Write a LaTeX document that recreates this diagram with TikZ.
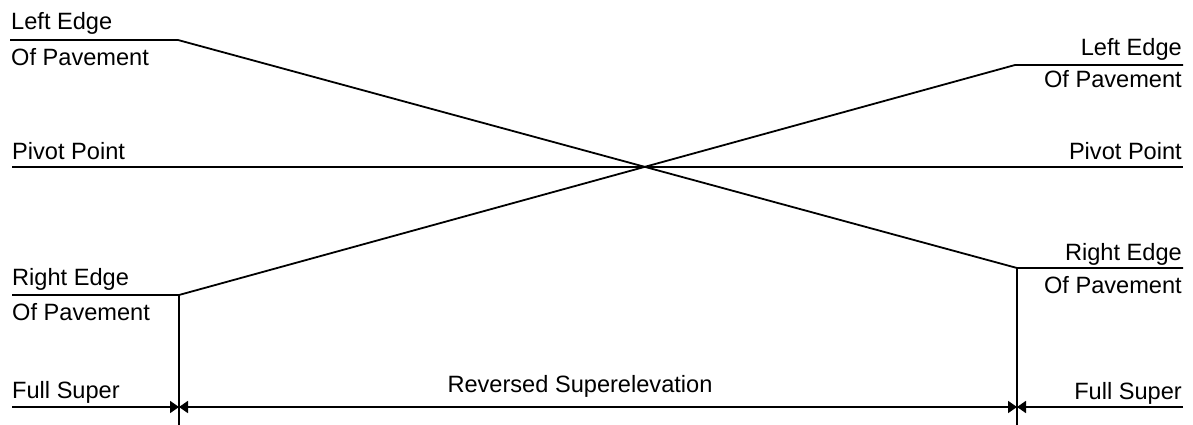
\documentclass[tikz,border=0pt]{standalone}
\usepackage{fontspec}
\setmainfont{Liberation Sans}
\usetikzlibrary{arrows.meta}
\tikzset{
  ln/.style={line width=1.8pt, line cap=butt},
  lbl/.style={inner sep=0pt, font=\fontsize{23.6}{27}\selectfont},
  lw/.style={lbl, anchor=base west},
  le/.style={lbl, anchor=base east},
  tip/.style={-{Triangle[length=9pt,width=12pt]}}
}
\begin{document}
\begin{tikzpicture}[x=1pt,y=-1pt]
\useasboundingbox (0,0) rectangle (1193,425);
% coordinates
\coordinate (LL0) at (10,40);
\coordinate (LL1) at (178,40);
\coordinate (RR1) at (1017,268);
\coordinate (RR0) at (1183,268);
\coordinate (RL0) at (12,295);
\coordinate (RL1) at (179,295);
\coordinate (LR1) at (1015,65);
\coordinate (LR0) at (1183,65);
\coordinate (P0) at (12,167);
\coordinate (P1) at (1183,167);
\coordinate (VLb) at (179,425);
\coordinate (VRb) at (1017,425);
\coordinate (DL) at (179,407);
\coordinate (DR) at (1017,407);
\coordinate (D0) at (12,407);
\coordinate (D1) at (1183,407);
% lines
\draw[ln] (LL0) -- (LL1) -- (RR1) -- (RR0);
\draw[ln] (RL0) -- (RL1) -- (LR1) -- (LR0);
\draw[ln] (P0) -- (P1);
\draw[ln] (RL1) -- (VLb);
\draw[ln] (RR1) -- (VRb);
\draw[ln,tip] (D0) -- (DL);
\draw[ln,tip] (DR) -- (DL);
\draw[ln,tip] (DL) -- (DR);
\draw[ln,tip] (D1) -- (DR);
% labels
\node[lw] (t1) at (11,30) {Left Edge};
\node[lw] (t2) at (11,66) {Of Pavement};
\node[lw] (t3) at (12,159) {Pivot Point};
\node[lw] (t4) at (12,285) {Right Edge};
\node[lw] (t5) at (12,320) {Of Pavement};
\node[lw] (t6) at (12,398) {Full Super};
\node[le] (t7) at (1182,56) {Left Edge};
\node[le] (t8) at (1182,88) {Of Pavement};
\node[le] (t9) at (1182,159) {Pivot Point};
\node[le] (t10) at (1182,260) {Right Edge};
\node[le] (t11) at (1182,293) {Of Pavement};
\node[le] (t12) at (1182,399) {Full Super};
\node[lbl, anchor=base] (t13) at (580,392) {Reversed Superelevation};
\end{tikzpicture}
\end{document}
